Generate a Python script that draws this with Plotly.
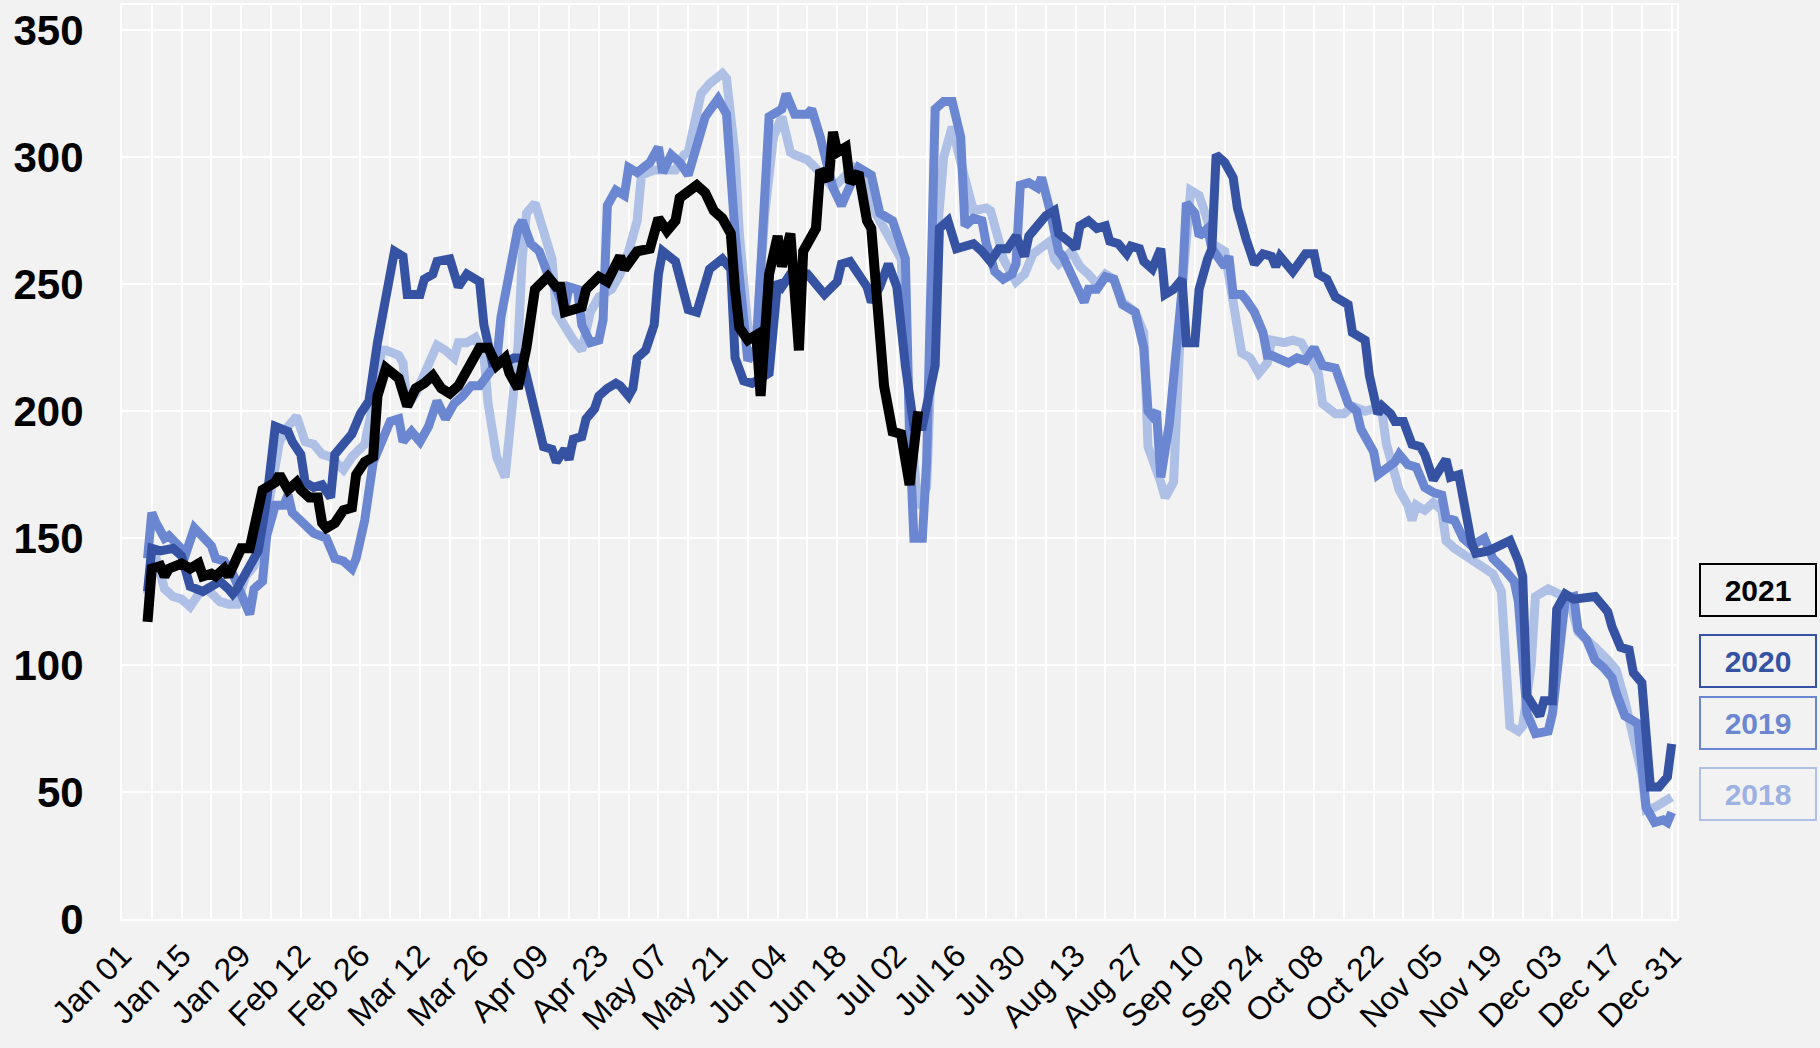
import pandas as pd
import plotly.graph_objects as go

# ---------------- data (day offset from Jan 01, value) ----------------
days_2021 = [6, 7, 9, 10, 11, 14, 16, 18, 19, 21, 22, 24, 25, 27, 28, 30, 32, 33, 36, 37, 39, 41, 42, 44, 46, 47, 48, 50,
             52, 54, 55, 57, 59, 60, 62, 64, 65, 67, 69, 71, 73, 75, 77, 79, 82, 84, 86, 88, 90, 91, 93, 95, 97, 100,
             102, 103, 104, 106, 108, 109, 112, 114, 117, 118, 121, 124, 126, 128, 130, 131, 133, 135, 137, 139, 141,
             143, 144, 145, 147, 149, 150, 152, 154, 155, 157, 159, 160, 162, 163, 164, 166, 167, 168, 170, 171, 173,
             175, 176, 178, 179, 181, 183, 185, 187]
vals_2021 = [117, 138, 139, 135, 138, 140, 138, 140, 135, 136, 135, 138, 135, 142, 146, 146, 162, 169, 172, 175, 169, 172,
             169, 166, 166, 156, 154, 156, 161, 162, 175, 180, 182, 206, 217, 215, 213, 202, 209, 211, 214, 209, 207, 210,
             219, 225, 225, 218, 221, 215, 209, 225, 248, 253, 249, 249, 239, 240, 241, 248, 253, 251, 261, 256, 263, 264,
             276, 271, 275, 284, 287, 289, 286, 279, 276, 270, 248, 233, 228, 230, 206, 254, 269, 257, 270, 224, 263, 270,
             272, 295, 291, 310, 302, 304, 290, 294, 275, 272, 233, 210, 192, 191, 171, 200]

days_2020 = [6, 7, 9, 12, 14, 15, 16, 19, 21, 23, 25, 26, 27, 30, 32, 34, 36, 39, 40, 42, 43, 45, 47, 49, 50, 52, 54, 56,
             58, 60, 62, 64, 66, 67, 70, 71, 73, 74, 77, 79, 81, 84, 85, 86, 87, 90, 92, 94, 95, 97, 99, 101, 102, 104,
             105, 106, 108, 109, 111, 112, 114, 116, 117, 119, 120, 121, 123, 125, 126, 127, 130, 132, 133, 135, 138,
             141, 143, 144, 146, 148, 152, 154, 155, 157, 161, 162, 165, 168, 169, 171, 174, 175, 176, 178, 180, 182,
             184, 186, 188, 191, 192, 194, 196, 200, 202, 204, 206, 208, 210, 212, 213, 215, 217, 219, 220, 223, 224,
             225, 227, 229, 231, 232, 234, 236, 237, 239, 240, 242, 244, 245, 247, 249, 250, 252, 253, 255, 256, 257,
             259, 261, 262, 264, 266, 268, 270, 271, 272, 275, 277, 278, 280, 281, 283, 285, 288, 289, 292, 293, 295,
             296, 298, 299, 301, 303, 305, 306, 308, 310, 311, 312, 314, 317, 318, 321, 323, 326, 328, 329, 330, 332,
             333, 334, 336, 337, 339, 341, 344, 346, 348, 349, 350, 351, 352, 354, 355, 357, 358, 359, 361, 363, 364]
vals_2020 = [129, 146, 145, 146, 143, 138, 131, 129, 131, 133, 130, 128, 130, 138, 145, 165, 194, 192, 188, 183, 172, 170,
             171, 166, 183, 187, 191, 199, 204, 227, 246, 263, 261, 246, 246, 252, 254, 259, 260, 249, 254, 251, 234, 225,
             219, 219, 221, 221, 213, 200, 186, 185, 180, 185, 181, 189, 190, 197, 201, 206, 209, 211, 210, 206, 209, 221,
             224, 234, 254, 263, 259, 246, 240, 239, 256, 260, 256, 221, 212, 211, 215, 251, 249, 254, 254, 252, 246, 251,
             258, 259, 252, 249, 243, 249, 258, 249, 218, 194, 194, 218, 272, 275, 264, 266, 263, 259, 264, 264, 269, 261,
             269, 273, 277, 279, 270, 266, 264, 273, 275, 272, 273, 267, 266, 262, 265, 264, 259, 256, 264, 246, 248, 252,
             227, 227, 248, 260, 264, 301, 298, 292, 280, 268, 258, 262, 261, 257, 261, 255, 259, 262, 262, 254, 252, 245,
             242, 231, 228, 214, 199, 202, 199, 196, 196, 187, 186, 183, 173, 179, 181, 174, 175, 148, 144, 145, 147, 149,
             141, 135, 88, 82, 80, 86, 86, 122, 128, 126, 127, 127, 123, 121, 115, 110, 107, 106, 97, 93, 73, 52, 52, 56,
             69]

days_2019 = [6, 7, 8, 10, 11, 13, 15, 17, 19, 21, 22, 24, 26, 28, 30, 31, 33, 34, 36, 38, 39, 40, 43, 45, 48, 50, 52, 54,
             55, 57, 59, 61, 63, 65, 66, 68, 70, 72, 74, 76, 78, 80, 82, 84, 86, 88, 89, 91, 93, 94, 96, 98, 100, 102,
             104, 105, 107, 108, 110, 112, 113, 114, 116, 118, 119, 121, 124, 126, 127, 129, 131, 133, 136, 137, 140,
             142, 144, 147, 149, 150, 152, 155, 156, 158, 161, 162, 164, 167, 169, 170, 173, 176, 178, 181, 184, 185,
             186, 188, 189, 191, 193, 195, 197, 198, 200, 202, 203, 205, 207, 209, 210, 211, 213, 215, 216, 218, 220,
             221, 223, 224, 226, 227, 229, 231, 233, 235, 238, 240, 241, 242, 243, 244, 246, 249, 250, 252, 253, 255,
             256, 259, 260, 261, 263, 264, 266, 268, 269, 270, 272, 274, 276, 278, 280, 282, 285, 286, 288, 290, 291,
             292, 294, 295, 297, 299, 300, 302, 304, 306, 308, 310, 311, 313, 315, 317, 320, 322, 325, 327, 328, 330,
             332, 335, 336, 339, 341, 342, 344, 346, 348, 350, 351, 353, 356, 358, 360, 362, 363, 364]
vals_2019 = [142, 160, 156, 150, 151, 147, 144, 154, 150, 147, 142, 141, 136, 128, 120, 130, 133, 151, 163, 163, 167, 160,
             155, 152, 150, 142, 141, 138, 142, 157, 180, 189, 196, 197, 188, 192, 188, 194, 204, 197, 203, 206, 210, 210,
             214, 219, 237, 255, 272, 275, 266, 263, 254, 248, 240, 249, 248, 234, 227, 228, 236, 281, 287, 285, 296, 294,
             298, 304, 294, 301, 298, 293, 310, 316, 323, 317, 270, 220, 225, 260, 316, 319, 325, 317, 317, 319, 308, 288,
             281, 285, 296, 293, 278, 275, 260, 190, 150, 150, 180, 319, 322, 322, 308, 273, 276, 275, 266, 255, 252, 254,
             258, 289, 290, 288, 292, 279, 263, 261, 254, 252, 243, 248, 248, 253, 252, 242, 239, 225, 200, 198, 200, 174,
             195, 248, 282, 278, 269, 272, 264, 257, 261, 246, 246, 244, 239, 231, 222, 222, 220, 219, 221, 220, 225, 218,
             217, 212, 203, 200, 193, 190, 184, 175, 178, 180, 183, 179, 178, 170, 168, 167, 158, 157, 150, 147, 150, 142,
             137, 133, 125, 81, 73, 74, 81, 126, 127, 114, 110, 102, 99, 95, 89, 80, 77, 44, 38, 39, 38, 42]

days_2018 = [6, 7, 8, 10, 12, 14, 16, 18, 20, 22, 23, 25, 27, 29, 31, 32, 34, 37, 39, 41, 43, 45, 47, 49, 50, 52, 54, 57,
             59, 61, 62, 65, 66, 67, 69, 72, 74, 76, 78, 79, 81, 83, 85, 86, 88, 90, 91, 93, 94, 95, 97, 99, 101, 102,
             104, 106, 108, 110, 112, 115, 117, 119, 121, 122, 125, 127, 130, 132, 133, 136, 138, 141, 142, 144, 145,
             147, 149, 151, 153, 155, 157, 158, 161, 164, 167, 172, 175, 177, 179, 181, 183, 185, 187, 189, 191, 193,
             195, 197, 199, 200, 203, 204, 206, 207, 210, 212, 214, 216, 218, 219, 220, 223, 225, 227, 229, 231, 233,
             235, 238, 240, 241, 244, 245, 247, 248, 249, 251, 253, 255, 256, 259, 261, 263, 265, 267, 269, 270, 273,
             275, 277, 279, 281, 282, 285, 287, 289, 292, 294, 296, 297, 300, 302, 303, 304, 306, 308, 310, 311, 313,
             315, 317, 318, 320, 322, 324, 325, 326, 328, 329, 331, 332, 335, 337, 340, 342, 345, 346, 349, 351, 353,
             355, 357, 358, 360, 363, 364]
vals_2018 = [128, 144, 142, 130, 127, 126, 123, 128, 130, 127, 125, 124, 124, 135, 139, 145, 159, 188, 194, 198, 188, 187,
             183, 182, 180, 177, 182, 187, 203, 224, 224, 222, 219, 202, 207, 218, 226, 224, 221, 227, 227, 229, 222, 203,
             182, 174, 190, 225, 260, 278, 282, 272, 260, 239, 233, 228, 224, 239, 245, 248, 254, 263, 275, 293, 295, 295,
             295, 301, 302, 325, 329, 333, 331, 301, 270, 233, 230, 278, 308, 316, 302, 301, 299, 294, 288, 296, 293, 278,
             272, 267, 260, 200, 162, 170, 260, 300, 312, 298, 284, 279, 280, 279, 267, 260, 251, 254, 262, 264, 267, 260,
             258, 263, 257, 254, 250, 254, 252, 243, 239, 231, 186, 172, 166, 172, 206, 248, 287, 285, 275, 266, 263, 245,
             223, 221, 215, 219, 228, 227, 228, 227, 220, 215, 203, 199, 199, 202, 200, 201, 199, 187, 169, 163, 157, 163,
             161, 164, 161, 149, 146, 144, 141, 140, 138, 136, 129, 102, 76, 74, 76, 100, 127, 130, 128, 126, 113, 109,
             107, 102, 98, 86, 71, 57, 43, 44, 47, 48]

years = ["2018", "2019", "2020", "2021"]
series_days = {"2018": days_2018, "2019": days_2019, "2020": days_2020, "2021": days_2021}
series_vals = {"2018": vals_2018, "2019": vals_2019, "2020": vals_2020, "2021": vals_2021}
label_pos = {"2021": 129.5, "2020": 101.6, "2019": 77.2, "2018": 49.2}

y_ticks = [0, 50, 100, 150, 200, 250, 300, 350]

# ---------------- styling ----------------
colors = {"2018": "#AEC0E6", "2019": "#6C87D1", "2020": "#3552A3", "2021": "#000000"}
label_text_colors = {"2018": "#9DB1E2", "2019": "#6C87D1", "2020": "#3552A3", "2021": "#000000"}
widths = {"2018": 9, "2019": 9, "2020": 9, "2021": 10}
BG = "#F2F2F2"
FONT = "Liberation Sans, Arial, sans-serif"

base = pd.Timestamp("2021-01-01")

fig = go.Figure()
for yr in years:
    x = base + pd.to_timedelta(series_days[yr], unit="D")
    fig.add_trace(go.Scatter(
        x=x, y=series_vals[yr], mode="lines", name=yr,
        line=dict(color=colors[yr], width=widths[yr]),
        showlegend=False, hoverinfo="x+y",
    ))

for yr in ["2021", "2020", "2019", "2018"]:
    fig.add_annotation(
        xref="paper", yref="y", x=1.052, y=label_pos[yr],
        xanchor="center", yanchor="middle",
        text=f"<b>{yr}</b>", showarrow=False,
        font=dict(family=FONT, size=30, color=label_text_colors[yr]),
        bordercolor=colors[yr], borderwidth=2,
        width=112, height=48, bgcolor=BG,
    )

fig.update_layout(
    width=1820, height=1048,
    paper_bgcolor=BG, plot_bgcolor=BG,
    margin=dict(l=122, r=143, t=5, b=129, autoexpand=False),
    font=dict(family=FONT, color="#000000"),
    xaxis=dict(
        type="date", automargin=False,
        range=[base, pd.Timestamp("2022-01-01 06:00")],
        tick0=base, dtick=14 * 86400000, tickformat="%b %d",
        tickangle=-45, tickfont=dict(family=FONT, size=32, color="#000000"),
        showgrid=True, gridcolor="#FFFFFF", gridwidth=1.5,
        minor=dict(dtick=7 * 86400000, tick0=base, showgrid=True, gridcolor="#FFFFFF", gridwidth=1.5),
        showline=True, linecolor="#FFFFFF", linewidth=2, mirror=True,
        ticks="", zeroline=False, ticklabelstandoff=3,
    ),
    yaxis=dict(
        range=[0, 360], tickvals=y_ticks, automargin=False,
        tickfont=dict(family=FONT, size=42, color="#000000", weight="bold"),
        showgrid=True, gridcolor="#FFFFFF", gridwidth=1.5,
        showline=True, linecolor="#FFFFFF", linewidth=2, mirror=True,
        ticks="", zeroline=False, ticklabelstandoff=28,
    ),
)

fig.write_html("out.html", config={"displayModeBar": False},
               post_script="document.body.style.margin='0';")
